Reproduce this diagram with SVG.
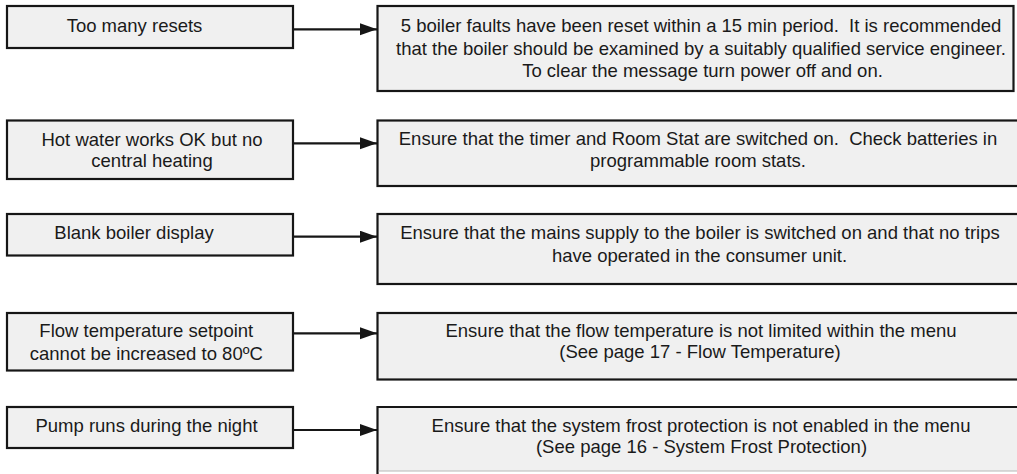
<svg xmlns="http://www.w3.org/2000/svg" width="1017" height="474" viewBox="0 0 1017 474">
<style>
.box{fill:#f0f0f0;stroke:#161616;stroke-width:2.2}
.t{font-family:"Liberation Sans",Arial,sans-serif;font-size:18.5px;fill:#1a1a1a;text-anchor:middle;white-space:pre}
.c{stroke:#161616;stroke-width:2.2;fill:none}
</style>
<defs>
<marker id="ah" markerUnits="userSpaceOnUse" markerWidth="18" markerHeight="13" refX="17" refY="6" orient="auto">
<path d="M0,0 L17,6 L0,12 z" fill="#161616"/>
</marker>
</defs>
<rect width="1017" height="474" fill="#ffffff"/>
<g id="connectors">
<line class="c" x1="293" y1="29.3" x2="377" y2="29.3" marker-end="url(#ah)"/>
<line class="c" x1="293" y1="143.3" x2="377" y2="143.3" marker-end="url(#ah)"/>
<line class="c" x1="293" y1="236.7" x2="377" y2="236.7" marker-end="url(#ah)"/>
<line class="c" x1="293" y1="333.3" x2="377" y2="333.3" marker-end="url(#ah)"/>
<line class="c" x1="293" y1="430" x2="377" y2="430" marker-end="url(#ah)"/>
</g>
<g id="n1">
<rect class="box" x="7" y="6" width="286" height="42"/>
<text class="t" x="134.5" y="32">Too many resets</text>
</g>
<g id="r1">
<rect class="box" x="377.5" y="6" width="636" height="85"/>
<text class="t" x="701" y="32">5 boiler faults have been reset within a 15 min period.  It is recommended</text>
<text class="t" x="701" y="54.5">that the boiler should be examined by a suitably qualified service engineer.</text>
<text class="t" x="702.5" y="77">To clear the message turn power off and on.</text>
</g>
<g id="n2">
<rect class="box" x="7" y="120.5" width="286" height="58.5"/>
<text class="t" x="152" y="146">Hot water works OK but no</text>
<text class="t" x="152" y="167">central heating</text>
</g>
<g id="r2">
<rect class="box" x="377.5" y="120.5" width="645" height="65.5"/>
<text class="t" x="698" y="144.5">Ensure that the timer and Room Stat are switched on.  Check batteries in</text>
<text class="t" x="698" y="167">programmable room stats.</text>
</g>
<g id="n3">
<rect class="box" x="7" y="214" width="286" height="41.5"/>
<text class="t" x="134" y="238.5">Blank boiler display</text>
</g>
<g id="r3">
<rect class="box" x="377.5" y="214" width="645" height="70"/>
<text class="t" x="700" y="238.5">Ensure that the mains supply to the boiler is switched on and that no trips</text>
<text class="t" x="699.5" y="261.5">have operated in the consumer unit.</text>
</g>
<g id="n4">
<rect class="box" x="7" y="313" width="286" height="57.5"/>
<text class="t" x="146.3" y="337">Flow temperature setpoint</text>
<text class="t" x="146.3" y="359.5">cannot be increased to 80ºC</text>
</g>
<g id="r4">
<rect class="box" x="377.5" y="313" width="645" height="66.5"/>
<text class="t" x="701" y="336.5">Ensure that the flow temperature is not limited within the menu</text>
<text class="t" x="700" y="357.5">(See page 17 - Flow Temperature)</text>
</g>
<g id="n5">
<rect class="box" x="7" y="407" width="286" height="41"/>
<text class="t" x="146.5" y="431.5">Pump runs during the night</text>
</g>
<g id="r5">
<rect x="377.5" y="407" width="645" height="64" fill="#f0f0f0"/>
<path class="c" d="M1022,407 H377.5 V476"/>
<line x1="378.5" y1="471" x2="1017" y2="471" stroke="#b8b8b8" stroke-width="1.2"/>
<text class="t" x="701" y="431.5">Ensure that the system frost protection is not enabled in the menu</text>
<text class="t" x="701.5" y="453">(See page 16 - System Frost Protection)</text>
</g>
</svg>
